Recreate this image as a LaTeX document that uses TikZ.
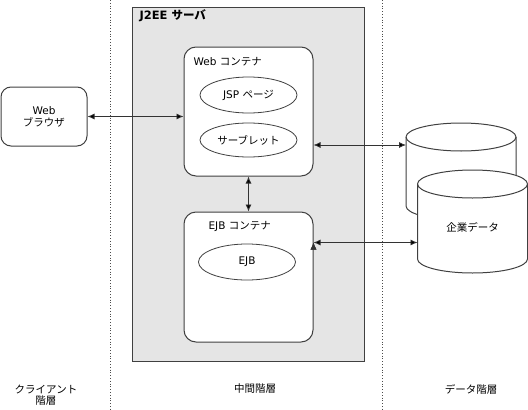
\documentclass[tikz,border=0pt]{standalone}
\usepackage{fontspec}
\setmainfont{DejaVu Sans}
\newfontfamily\jp{Noto Sans CJK JP}
\usetikzlibrary{arrows.meta,shapes.geometric}

\tikzset{
  box/.style={draw=black!75, line width=1pt, fill=white, rounded corners=12pt, inner sep=0pt},
  bean/.style={ellipse, draw=black!75, line width=0.8pt, fill=white, minimum width=97pt, minimum height=36pt, inner sep=0pt},
  store/.style={inner sep=0pt, outer sep=0pt, minimum width=110pt},
  drum/.style={draw=black!75, line width=1pt, fill=white},
  link/.style={{Latex[length=7pt,width=6pt]}-{Latex[length=7pt,width=6pt]}, draw=black!80, line width=0.8pt},
  tier/.style={dotted, draw=black!70, line width=0.8pt}
}

% cylinder outline round a store node
\newcommand\drawdrum[1]{%
  \draw[drum] ([yshift=-14pt]#1.north west) -- ([yshift=14pt]#1.south west)
    arc[start angle=180, end angle=360, x radius=55pt, y radius=14pt]
    -- ([yshift=-14pt]#1.north east)
    arc[start angle=0, end angle=180, x radius=55pt, y radius=14pt] -- cycle;
  \draw[drum, fill=none] ([yshift=-14pt]#1.north west)
    arc[start angle=180, end angle=360, x radius=55pt, y radius=14pt];}

\begin{document}
\begin{tikzpicture}[x=1pt, y=-1pt, font=\fontsize{10.5}{13}\selectfont]
  \useasboundingbox (0,0) rectangle (528,410);
  \draw[tier] (110,0) -- (110,410);
  \draw[tier] (382,0) -- (382,410);

  % middle tier
  \node (server) [draw=black!75, line width=1pt, fill=black!10, minimum width=232pt, minimum height=354pt] at (248.5,184) {};
  \node (serverlbl) [anchor=west, font=\fontsize{11.5}{13}\selectfont\bfseries] at (136,15.5) {J2EE {\jp サーバ}};
  \node (webc) [box, minimum width=129pt, minimum height=129pt] at (248.5,111.5) {};
  \node (webclbl) [anchor=west] at (190,61.5) {Web {\jp コンテナ}};
  \node (jsp) [bean] at (248.5,95) {JSP {\jp ページ}};
  \node (servlet) [bean, minimum height=34pt] at (248.5,140) {\jp サーブレット};
  \node (ejbc) [box, minimum width=129pt, minimum height=130pt] at (248.5,277) {};
  \node (ejbclbl) [anchor=west] at (205,226) {EJB {\jp コンテナ}};
  \node (ejb) [bean] at (247,262) {EJB};

  % client tier
  \node (browser) [box, rounded corners=10pt, minimum width=86pt, minimum height=59pt, align=center] at (44,116.5) {Web\\[-1pt]{\jp ブラウザ}};

  % data tier
  \node (dbback) [store, minimum height=97pt] at (461,171.5) {};
  \node (dbfront) [store, minimum height=103pt] at (472.5,221.5) {};
  \drawdrum{dbback}
  \drawdrum{dbfront}
  \node (dblbl) at ([yshift=-5.5pt]dbfront.center) {\jp 企業データ};

  \path[link]
    (browser.east) edge (browser.east -| webc.west)
    (webc.south) edge (ejbc.north)
    ([yshift=-33.5pt]webc.east) edge ([yshift=26.5pt]dbback.west)
    ([yshift=34.5pt]ejbc.east) edge ([yshift=-21pt]dbfront.west);

  % tier names
  \node (clienttier) [align=center] at (46,395) {\jp クライアント\\[-2pt]\jp 階層};
  \node (midtier) at (255,389) {\jp 中間階層};
  \node (datatier) at (471,389) {\jp データ階層};
\end{tikzpicture}
\end{document}
